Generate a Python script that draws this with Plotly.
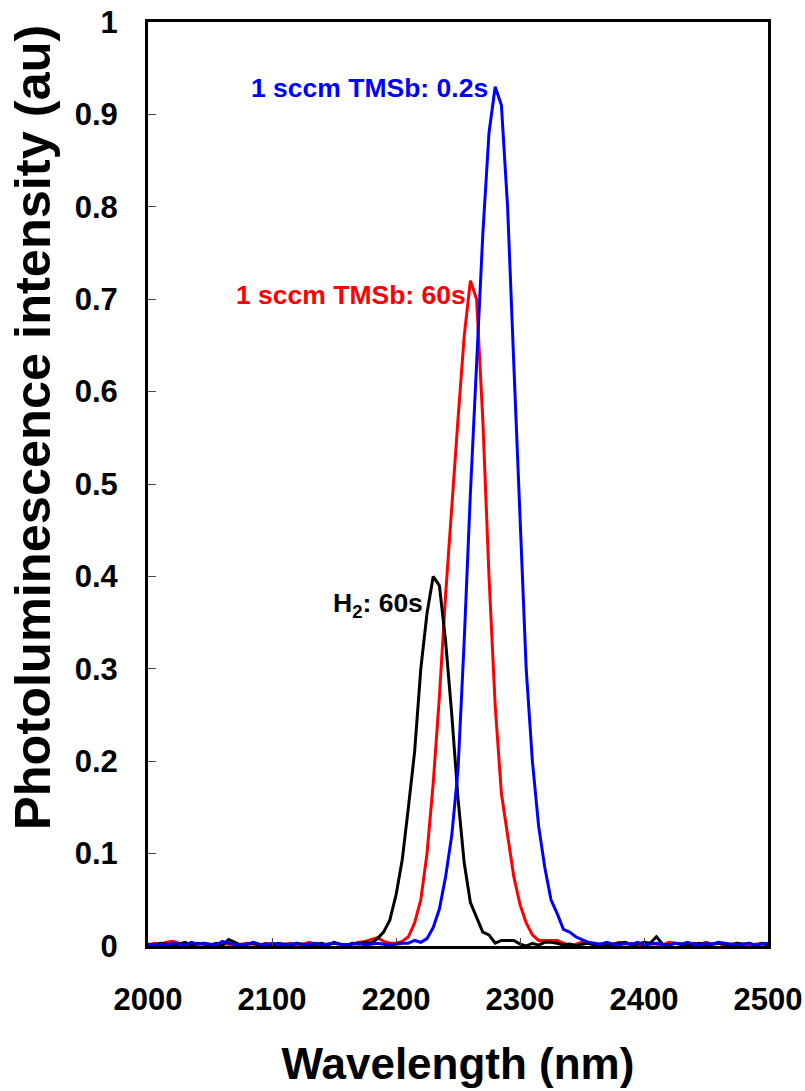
import plotly.graph_objects as go

wavelength = [2000 + 5 * i for i in range(101)]

h2_60s = ([0.002, 0.001, 0.003, 0.002, 0.0, 0.002, 0.004, 0.001, 0.003, 0.002, 0.001, 0.003, 0.0, 0.007,
           0.004, 0.001, 0.002, 0.003, 0.001, 0.002, 0.0, 0.003, 0.002, 0.001, 0.003, 0.002, 0.0, 0.002,
           0.003, 0.001, 0.004, 0.002, 0.001, 0.003, 0.002, 0.004, 0.003]
          + [0.008, 0.015, 0.028, 0.055, 0.093, 0.15, 0.21, 0.30, 0.36, 0.40, 0.39, 0.33, 0.25, 0.16,
             0.09, 0.047, 0.03, 0.015, 0.012, 0.003, 0.006, 0.006, 0.006, 0.002]
          + [0.0, 0.003, 0.001, 0.004, 0.004, 0.003, 0.001, 0.002, 0.0, 0.002, 0.003, 0.001, 0.002, 0.0,
             0.002, 0.003, 0.004, 0.001, 0.002, 0.004, 0.003, 0.01, 0.002, 0.001, 0.003, 0.002, 0.0,
             0.002, 0.003, 0.001, 0.002, 0.003, 0.002, 0.001, 0.003, 0.002, 0.003, 0.0, 0.003, 0.001])

tmsb_60s = ([0.001, 0.003, 0.002, 0.004, 0.005, 0.003, 0.002, 0.001, 0.002, 0.003, 0.001, 0.002, 0.003,
             0.002, 0.001, 0.002, 0.003, 0.002, 0.001, 0.003, 0.002, 0.001, 0.002, 0.003, 0.001, 0.002,
             0.004, 0.002, 0.001, 0.002, 0.003, 0.002, 0.001, 0.002, 0.004, 0.005, 0.007, 0.009, 0.005,
             0.003]
            + [0.003, 0.005, 0.01, 0.025, 0.05, 0.10, 0.176, 0.27, 0.38, 0.48, 0.57, 0.66, 0.72, 0.70,
               0.57, 0.40, 0.26, 0.165, 0.118, 0.075, 0.045, 0.025, 0.012, 0.006, 0.006, 0.006, 0.006]
            + [0.003, 0.001, 0.002, 0.004, 0.003, 0.002, 0.001, 0.003, 0.002, 0.004, 0.002, 0.003, 0.001,
               0.002, 0.003, 0.002, 0.001, 0.004, 0.003, 0.002, 0.001, 0.003, 0.002, 0.004, 0.002, 0.003,
               0.001, 0.002, 0.003, 0.002, 0.001, 0.002, 0.003, 0.001])

tmsb_02s = ([0.002, 0.001, 0.002, 0.001, 0.003, 0.002, 0.001, 0.004, 0.002, 0.003, 0.002, 0.001, 0.005,
             0.003, 0.002, 0.001, 0.002, 0.004, 0.002, 0.001, 0.003, 0.002, 0.001, 0.002, 0.003, 0.001,
             0.002, 0.003, 0.001, 0.002, 0.003, 0.002, 0.001, 0.002, 0.003, 0.001, 0.002, 0.003, 0.002,
             0.001, 0.002, 0.003]
            + [0.003, 0.006, 0.004, 0.008, 0.02, 0.04, 0.075, 0.12, 0.19, 0.33, 0.49, 0.63, 0.77, 0.88,
               0.93, 0.91, 0.80, 0.63, 0.47, 0.30, 0.20, 0.13, 0.085, 0.05, 0.035, 0.018, 0.015, 0.01,
               0.007, 0.004]
            + [0.003, 0.002, 0.004, 0.002, 0.001, 0.003, 0.002, 0.004, 0.001, 0.002, 0.003, 0.002, 0.001,
               0.003, 0.002, 0.004, 0.002, 0.001, 0.003, 0.002, 0.004, 0.003, 0.002, 0.001, 0.002, 0.003,
               0.001, 0.002, 0.003])

series_names = ["1 sccm TMSb: 60s", "H<sub>2</sub>: 60s", "1 sccm TMSb: 0.2s"]
series_colors = ["#ff0000", "#000000", "#0000ff"]
series_values = [tmsb_60s, h2_60s, tmsb_02s]

x_ticks = [2000, 2100, 2200, 2300, 2400, 2500]
y_ticks = [0, 0.1, 0.2, 0.3, 0.4, 0.5, 0.6, 0.7, 0.8, 0.9, 1]
y_ticktext = ["0", "0.1", "0.2", "0.3", "0.4", "0.5", "0.6", "0.7", "0.8", "0.9", "1"]

x_title = "Wavelength (nm)"
y_title = "Photoluminescence intensity (au)"

# label anchors (data coords, right end of text)
label_x = [2258, 2223, 2276]
label_y = [0.705, 0.369, 0.929]

fig = go.Figure()
for name, color, vals in zip(series_names, series_colors, series_values):
    fig.add_trace(go.Scatter(x=wavelength, y=vals, mode="lines", name=name,
                             line=dict(color=color, width=3), showlegend=False))

for name, color, lx, ly in zip(series_names, series_colors, label_x, label_y):
    fig.add_annotation(x=lx, y=ly, text="<b>%s</b>" % name, showarrow=False,
                       xanchor="right", yanchor="middle",
                       font=dict(family="Liberation Sans", size=26.5, color=color))

font_family = "Liberation Sans"

# y-axis title as an annotation (it sits above the plot's centre in the reference)
fig.add_annotation(xref="paper", yref="paper", x=-0.1855, y=0.5617,
                   text="<b>%s</b>" % y_title, textangle=-90, showarrow=False,
                   xanchor="center", yanchor="middle",
                   font=dict(family=font_family, size=50.5, color="black"))

fig.update_layout(
    width=805, height=1091,
    margin=dict(l=148, r=37, t=22, b=145),
    plot_bgcolor="white", paper_bgcolor="white",
    font=dict(family=font_family, color="black"),
)
fig.update_xaxes(
    range=[2000, 2500], tickvals=x_ticks, ticktext=[str(v) for v in x_ticks],
    showline=True, linecolor="black", linewidth=3, mirror=True,
    ticks="inside", ticklen=8, tickwidth=1, tickcolor="#444",
    showgrid=False, zeroline=False, automargin=False, ticklabeloverflow="allow",
    tickfont=dict(family=font_family, size=31, color="black", weight="bold"),
    ticklabelstandoff=24,
    title=dict(text="<b>%s</b>" % x_title, font=dict(family=font_family, size=44, color="black"),
               standoff=32),
)
fig.update_yaxes(
    range=[0, 1], tickvals=y_ticks, ticktext=y_ticktext,
    showline=True, linecolor="black", linewidth=3, mirror=True,
    ticks="inside", ticklen=8, tickwidth=1, tickcolor="#444",
    showgrid=False, zeroline=False, automargin=False, ticklabeloverflow="allow",
    tickfont=dict(family=font_family, size=31, color="black", weight="bold"),
    ticklabelstandoff=21,
)

fig.write_html("out.html", config={"displayModeBar": False},
               post_script="document.body.style.margin='0';document.body.style.overflow='hidden';")
